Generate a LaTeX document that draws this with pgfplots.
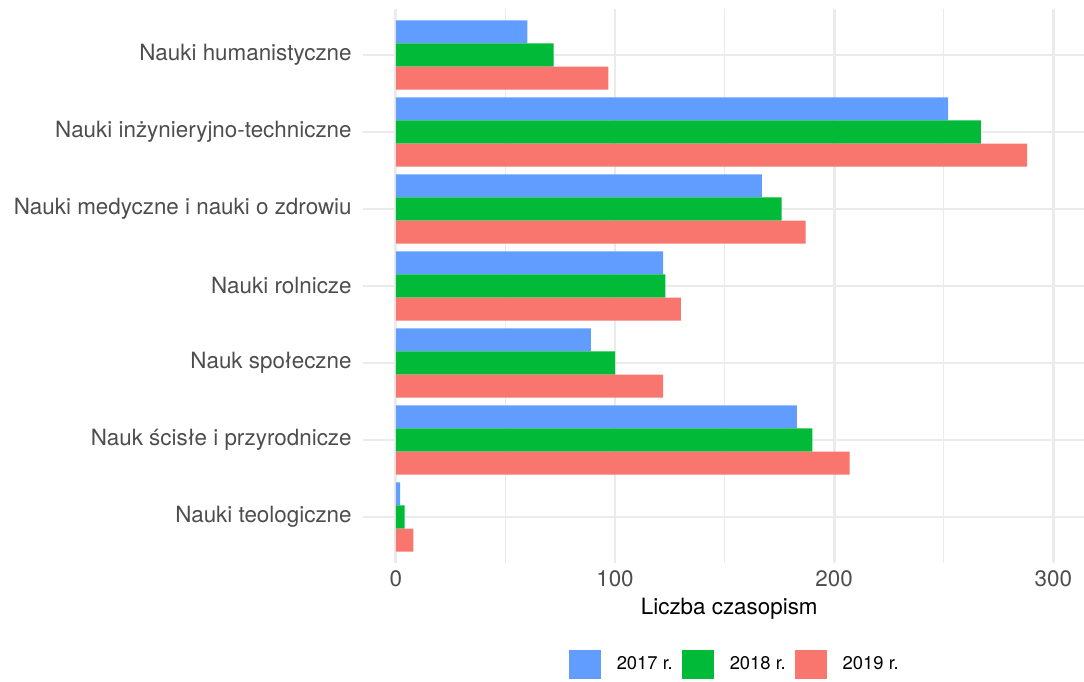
\documentclass[border=0pt]{standalone}
\usepackage{pgfplots}
\pgfplotsset{compat=1.18}
\usepackage{fontspec}
\setmainfont{TeX Gyre Heros}

\definecolor{c17}{HTML}{619CFF}
\definecolor{c18}{HTML}{00BA38}
\definecolor{c19}{HTML}{F8766D}
\definecolor{gridc}{HTML}{EBEBEB}
\definecolor{labc}{HTML}{4D4D4D}

\begin{document}
\begin{tikzpicture}
\begin{axis}[
    scale only axis,
    width=360.5pt,
    height=277.2pt,
    xbar,
    bar width=0.3,
    xmin=-15, xmax=314,
    ymin=0.4, ymax=7.6,
    y dir=reverse,
    ytick={1,2,3,4,5,6,7},
    yticklabels={Nauki humanistyczne, Nauki inżynieryjno-techniczne, Nauki medyczne i nauki o zdrowiu, Nauki rolnicze, Nauk społeczne, Nauk ścisłe i przyrodnicze, Nauki teologiczne},
    xtick={0,100,200,300},
    xticklabels={0,100,200,300},
    minor xtick={50,150,250},
    xmajorgrids, xminorgrids, ymajorgrids,
    major grid style={gridc, line width=1.4pt},
    minor grid style={gridc, line width=0.7pt},
    axis line style={draw=none},
    major tick length=0pt, minor tick length=0pt,
    tick style={draw=none},
    y tick label style={font=\fontsize{11.2}{13}\selectfont, text=labc, inner sep=0pt, xshift=-5.5pt, anchor=east},
    x tick label style={font=\fontsize{11.2}{13}\selectfont, text=labc, inner sep=0pt, yshift=-3.5pt, anchor=north},
    xlabel={Liczba czasopism},
    xlabel style={at={(axis description cs:0.508,-0.062)}, anchor=north, inner sep=0pt, font=\fontsize{11.2}{13}\selectfont},
    legend columns=3,
    legend cell align=left,
    legend style={at={(axis description cs:0.517,-0.1836)}, anchor=center, draw=none,
        font=\fontsize{9.2}{11}\selectfont,
        /tikz/every odd column/.append style={column sep=6pt},
        /tikz/every even column/.append style={column sep=2.5pt}},
    legend image code/.code={\fill[#1, draw=none] (0pt,-7.25pt) rectangle (16pt,7.25pt);},
]
\coordinate (bl) at (axis description cs:0,0);
\coordinate (tr) at (axis description cs:1,1);

\addplot[fill=c17, draw=none, bar shift=-0.3] coordinates {
    (60,1) (252,2) (167,3) (122,4) (89,5) (183,6) (2,7)
};
\addlegendentry{2017 r.}

\addplot[fill=c18, draw=none, bar shift=0] coordinates {
    (72,1) (267,2) (176,3) (123,4) (100,5) (190,6) (4,7)
};
\addlegendentry{2018 r.}

\addplot[fill=c19, draw=none, bar shift=0.3] coordinates {
    (97,1) (288,2) (187,3) (130,4) (122,5) (207,6) (8,7)
};
\addlegendentry{2019 r.}

\end{axis}
\pgfresetboundingbox
\path[use as bounding box] ([xshift=-181.5pt, yshift=-59.4pt]bl) rectangle ([yshift=4.4pt]tr);
\end{tikzpicture}
\end{document}
